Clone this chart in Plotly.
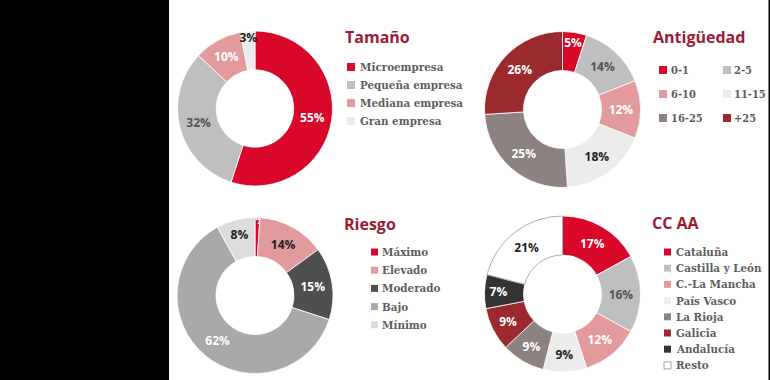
import plotly.graph_objects as go

W, H = 770, 380

# ---- data ----
tam_labels = ["Microempresa", "Pequeña empresa", "Mediana empresa", "Gran empresa"]
tam_values = [55, 32, 10, 3]

ant_labels = ["0-1", "2-5", "6-10", "11-15", "16-25", "+25"]
ant_values = [5, 14, 12, 18, 25, 26]

rie_labels = ["Máximo", "Elevado", "Moderado", "Bajo", "Mínimo"]
rie_values = [1, 14, 15, 62, 8]

cca_labels = ["Cataluña", "Castilla y León", "C.-La Mancha", "País Vasco",
              "La Rioja", "Galicia", "Andalucía", "Resto"]
cca_values = [17, 16, 12, 9, 9, 9, 7, 21]

titles = ["Tamaño", "Antigüedad", "Riesgo", "CC AA"]

# ---- styles ----
RED = "#d9082b"
GRAY = "#bfbfbf"
PINK = "#e39a9c"
LIGHT = "#ececec"
TAUPE = "#8c827f"
DARKRED = "#9a2a2e"
DARKGRAY = "#4f4f4f"
MIDGRAY = "#a9a9a9"
MINGRAY = "#dcdcdc"
ANDAL = "#333333"
WHITE = "#ffffff"
TITLE_C = "#9b1c33"
LEG_C = "#5e5e5e"

tam_colors = [RED, GRAY, PINK, LIGHT]
tam_tc = ["white", "#555555", "white", "#222222"]
ant_colors = [RED, GRAY, PINK, LIGHT, TAUPE, DARKRED]
ant_tc = ["white", "#555555", "white", "#222222", "white", "white"]
rie_colors = [RED, PINK, DARKGRAY, MIDGRAY, MINGRAY]
rie_tc = ["white", "#222222", "white", "white", "#222222"]
cca_colors = [RED, GRAY, PINK, LIGHT, TAUPE, DARKRED, ANDAL, WHITE]
cca_tc = ["white", "#555555", "white", "#222222", "white", "white", "white", "#222222"]


def px(x):
    return x / W


def py(y):
    return 1 - y / H


def dom(cx, cy, r):
    return dict(x=[px(cx - r), px(cx + r)], y=[py(cy + r), py(cy - r)])


fig = go.Figure()

pies = [
    (tam_labels, tam_values, tam_colors, tam_tc, (255, 108.5, 77.5)),
    (ant_labels, ant_values, ant_colors, ant_tc, (562.5, 109.5, 78)),
    (rie_labels, rie_values, rie_colors, rie_tc, (255, 295.5, 78)),
    (cca_labels, cca_values, cca_colors, cca_tc, (562.5, 294, 78)),
]

for labels, values, colors, tcs, (cx, cy, r) in pies:
    line_colors = ["#9a9a9a" if c == WHITE else "white" for c in colors]
    fig.add_trace(go.Pie(
        labels=labels, values=values, hole=0.5, sort=False,
        direction="clockwise", rotation=0,
        marker=dict(colors=colors, line=dict(color=line_colors, width=0.8)),
        texttemplate="%{value}%", textposition="inside",
        insidetextorientation="horizontal",
        textfont=dict(family="Open Sans", size=12, color=tcs, weight="bold"),
        domain=dom(cx, cy, r), showlegend=False, hoverinfo="label+percent",
    ))

fig.update_layout(uniformtext=dict(mode="show", minsize=12))

shapes = []
annotations = []

# black band on the left and thin line on the right
shapes.append(dict(type="rect", xref="paper", yref="paper", x0=0, x1=px(169),
                   y0=0, y1=1, fillcolor="black", line=dict(width=0), layer="above"))
shapes.append(dict(type="rect", xref="paper", yref="paper", x0=px(768.5), x1=1,
                   y0=0, y1=1, fillcolor="black", line=dict(width=0), layer="above"))

# titles
title_pos = [(343, 37), (651, 37), (342, 224), (650, 223)]
for t, (x, y) in zip(titles, title_pos):
    annotations.append(dict(text=t, x=px(x), y=py(y), xref="paper", yref="paper",
                            xanchor="left", yanchor="middle", showarrow=False,
                            font=dict(family="Open Sans", size=16, color=TITLE_C, weight="bold")))

LEG_FONT = "DejaVu Serif Condensed, DejaVu Serif"


def legend(labels, colors, positions, sq=8, size=11.5):
    for lab, col, (sx, tx, y) in zip(labels, colors, positions):
        lc = "#888888" if col == WHITE else col
        shapes.append(dict(type="rect", xref="paper", yref="paper",
                           x0=px(sx), x1=px(sx + sq), y0=py(y + sq / 2), y1=py(y - sq / 2),
                           fillcolor=col, line=dict(color=lc, width=0.8 if col == WHITE else 0)))
        annotations.append(dict(text=lab, x=px(tx), y=py(y), xref="paper", yref="paper",
                                xanchor="left", yanchor="middle", showarrow=False,
                                font=dict(family=LEG_FONT, size=size, color=LEG_C, weight="bold")))


legend(tam_labels, tam_colors, [(347, 358, 67 + 18 * i) for i in range(4)])
ant_pos = []
for i in range(6):
    row, col = divmod(i, 2)
    ant_pos.append((659 + 64 * col, 669 + 63 * col, 70 + 24 * row))
legend(ant_labels, ant_colors, ant_pos, size=11)
legend(rie_labels, rie_colors, [(371, 380, 252 + 18.2 * i) for i in range(5)], sq=7)
legend(cca_labels, cca_colors, [(664, 674, 252 + 16.2 * i) for i in range(8)], sq=7)

fig.update_layout(
    width=W, height=H, margin=dict(l=0, r=0, t=0, b=0),
    paper_bgcolor="white", plot_bgcolor="white",
    shapes=shapes, annotations=annotations,
)

fig.write_html("out.html", config={"displayModeBar": False},
               post_script="document.body.style.margin='0px';document.body.style.overflow='hidden';")
